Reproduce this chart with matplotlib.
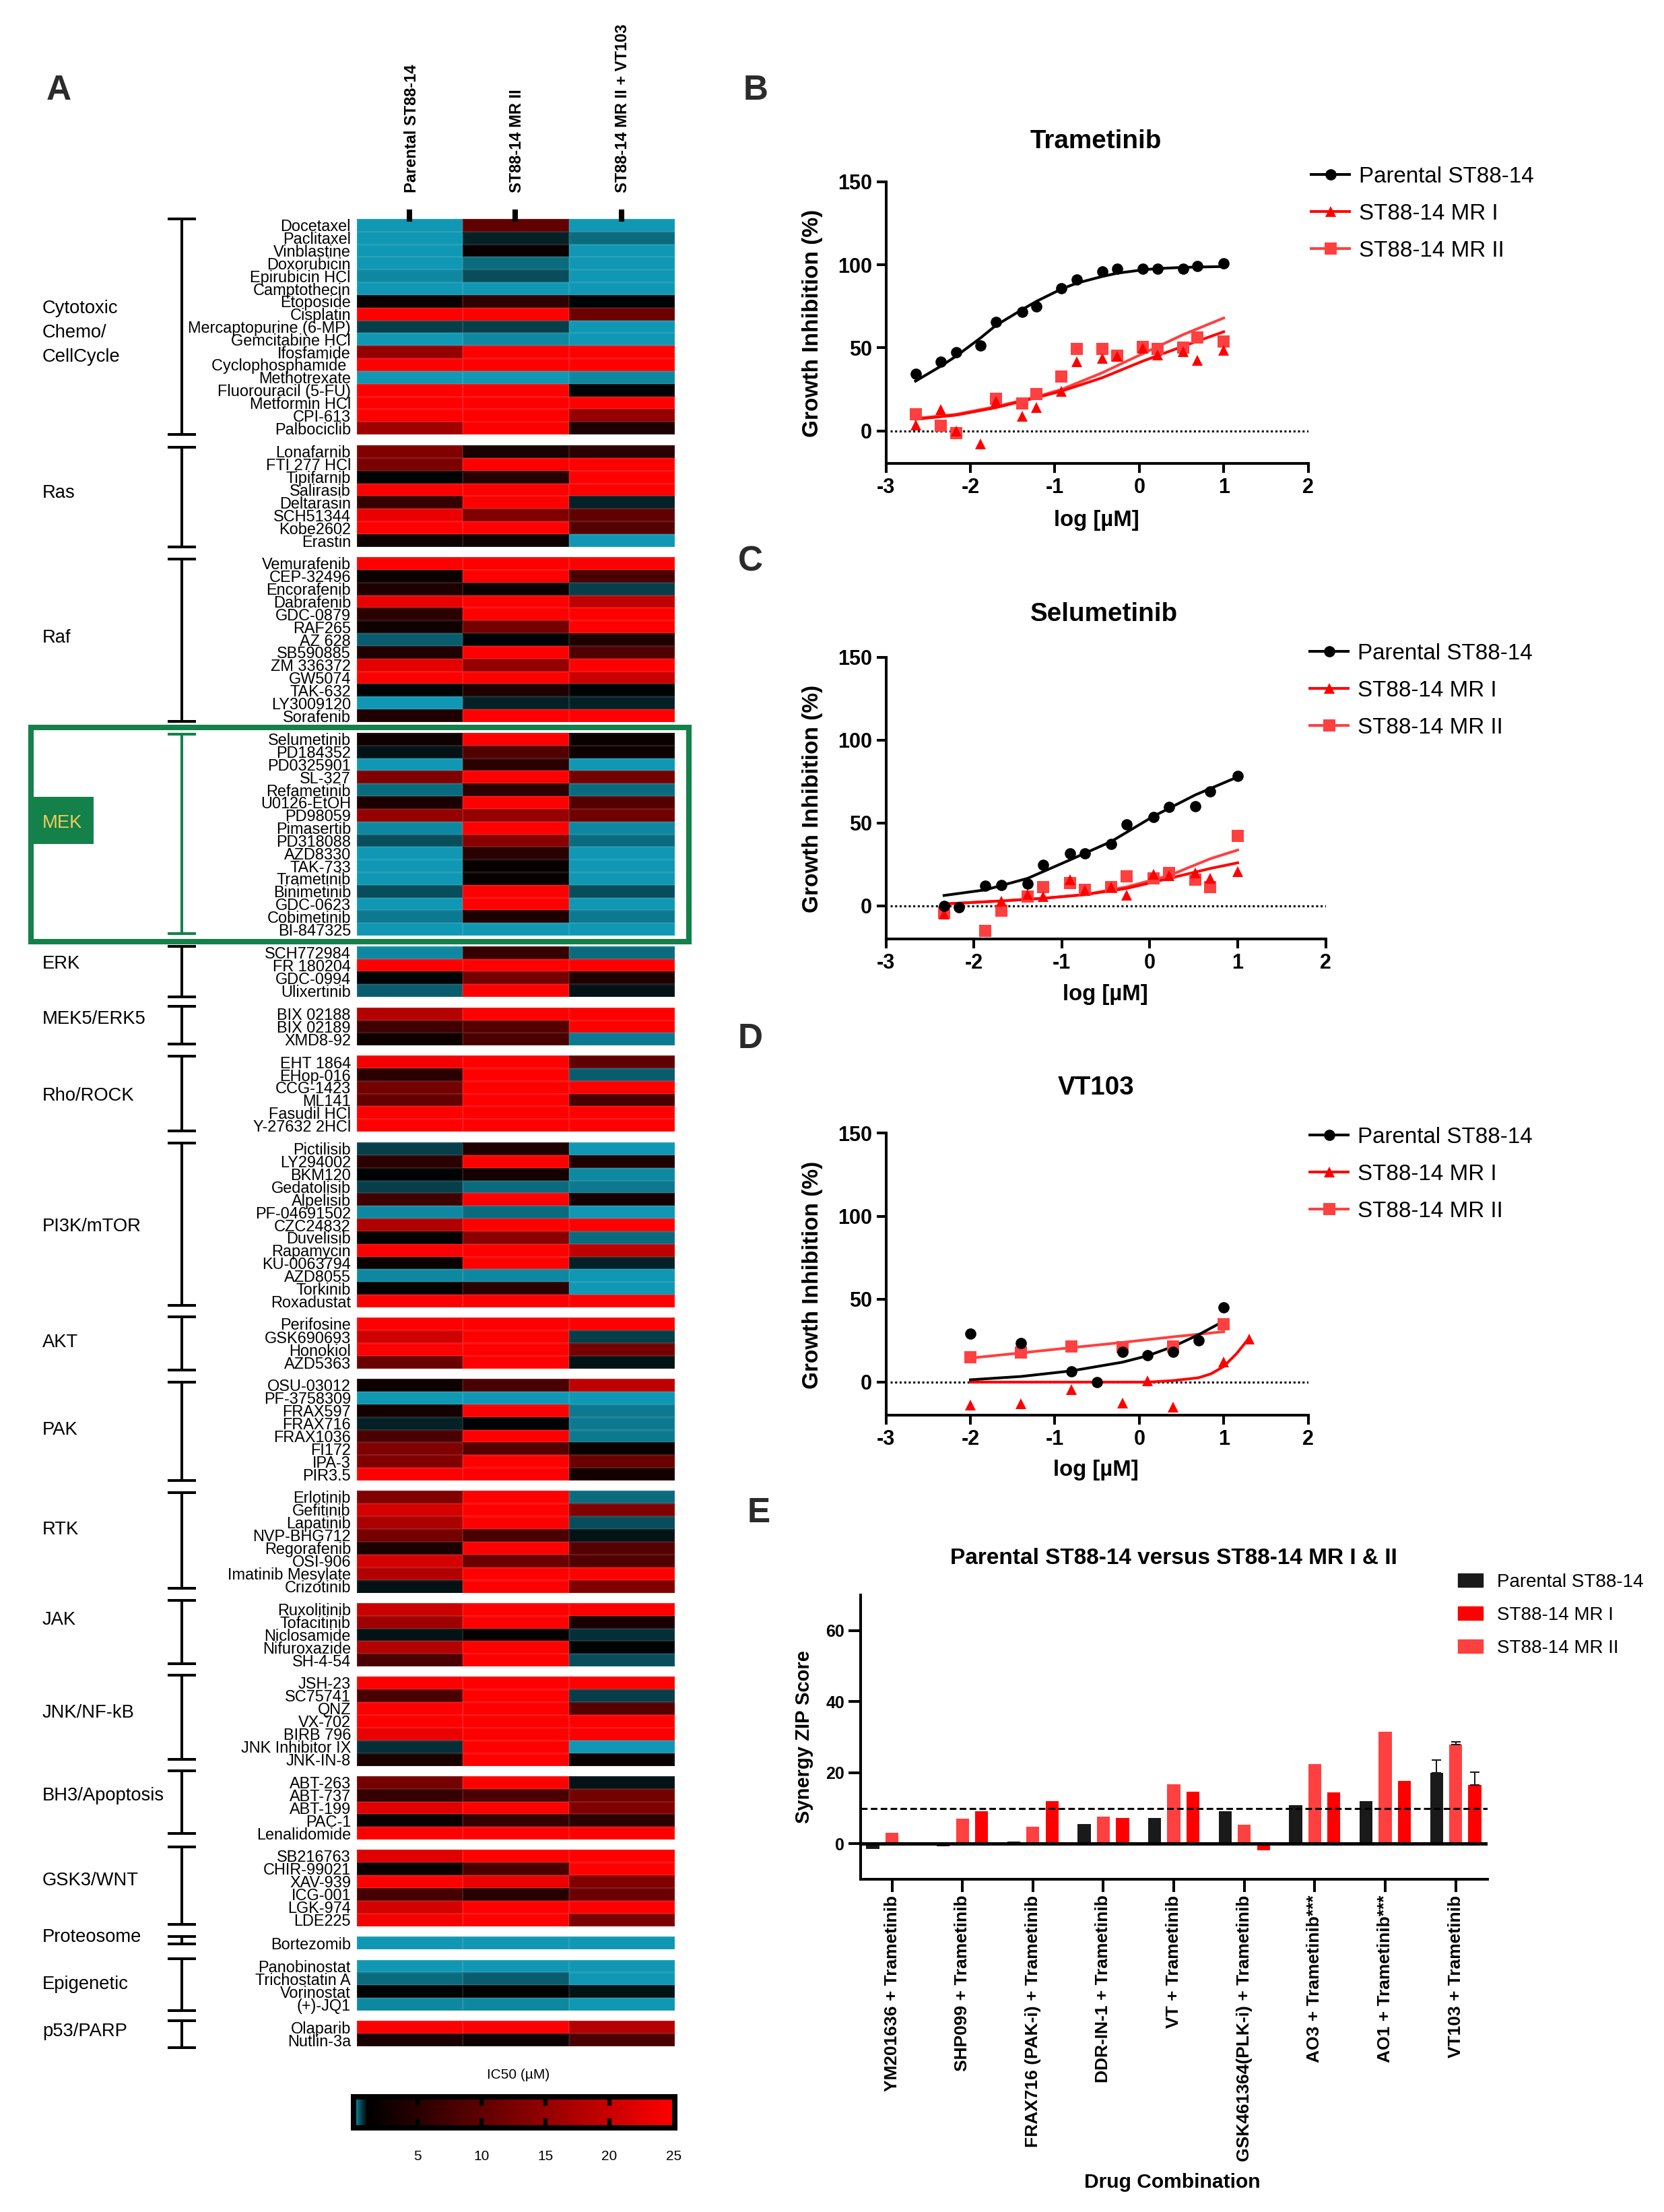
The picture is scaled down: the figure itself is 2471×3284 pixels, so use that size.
import numpy as np
import matplotlib
matplotlib.use('agg')
import matplotlib.pyplot as plt
from matplotlib.cm import ScalarMappable
from matplotlib.colors import LinearSegmentedColormap, Normalize
from matplotlib.lines import Line2D
from matplotlib.patches import Patch, Rectangle

plt.rcParams['font.family'] = ['Liberation Sans', 'DejaVu Sans']

W, H = 2471, 3284

# Panel A: drug screen, IC50 (uM), 0 is teal, 1 is black, 25 is red
GROUPS = ['Cytotoxic\nChemo/\nCellCycle', 'Ras', 'Raf', 'MEK', 'ERK', 'MEK5/ERK5', 'Rho/ROCK', 'PI3K/mTOR',
          'AKT', 'PAK', 'RTK', 'JAK', 'JNK/NF-kB', 'BH3/Apoptosis', 'GSK3/WNT', 'Proteosome', 'Epigenetic',
          'p53/PARP']
GROUP_SIZES = [17, 8, 13, 16, 4, 3, 6, 13, 4, 8, 8, 5, 7, 5, 6, 1, 4, 2]
DRUGS = ['Docetaxel', 'Paclitaxel', 'Vinblastine', 'Doxorubicin', 'Epirubicin HCl', 'Camptothecin', 'Etoposide',
         'Cisplatin', 'Mercaptopurine (6-MP)', 'Gemcitabine HCl', 'Ifosfamide', 'Cyclophosphamide ', 'Methotrexate',
         'Fluorouracil (5-FU)', 'Metformin HCl', 'CPI-613', 'Palbociclib',
         'Lonafarnib', 'FTI 277 HCl', 'Tipifarnib', 'Salirasib', 'Deltarasin', 'SCH51344', 'Kobe2602', 'Erastin',
         'Vemurafenib', 'CEP-32496', 'Encorafenib', 'Dabrafenib', 'GDC-0879', 'RAF265', 'AZ 628', 'SB590885',
         'ZM 336372', 'GW5074', 'TAK-632', 'LY3009120', 'Sorafenib',
         'Selumetinib', 'PD184352', 'PD0325901', 'SL-327', 'Refametinib', 'U0126-EtOH', 'PD98059', 'Pimasertib',
         'PD318088', 'AZD8330', 'TAK-733', 'Trametinib', 'Binimetinib', 'GDC-0623', 'Cobimetinib', 'BI-847325',
         'SCH772984', 'FR 180204', 'GDC-0994', 'Ulixertinib',
         'BIX 02188', 'BIX 02189', 'XMD8-92',
         'EHT 1864', 'EHop-016', 'CCG-1423', 'ML141', 'Fasudil HCl', 'Y-27632 2HCl',
         'Pictilisib', 'LY294002', 'BKM120', 'Gedatolisib', 'Alpelisib', 'PF-04691502', 'CZC24832', 'Duvelisib',
         'Rapamycin', 'KU-0063794', 'AZD8055', 'Torkinib', 'Roxadustat',
         'Perifosine', 'GSK690693', 'Honokiol', 'AZD5363',
         'OSU-03012', 'PF-3758309', 'FRAX597', 'FRAX716', 'FRAX1036', 'FI172', 'IPA-3', 'PIR3.5',
         'Erlotinib', 'Gefitinib', 'Lapatinib', 'NVP-BHG712', 'Regorafenib', 'OSI-906', 'Imatinib Mesylate',
         'Crizotinib',
         'Ruxolitinib', 'Tofacitinib', 'Niclosamide', 'Nifuroxazide', 'SH-4-54',
         'JSH-23', 'SC75741', 'QNZ', 'VX-702', 'BIRB 796', 'JNK Inhibitor IX', 'JNK-IN-8',
         'ABT-263', 'ABT-737', 'ABT-199', 'PAC-1', 'Lenalidomide',
         'SB216763', 'CHIR-99021', 'XAV-939', 'ICG-001', 'LGK-974', 'LDE225',
         'Bortezomib',
         'Panobinostat', 'Trichostatin A', 'Vorinostat', '(+)-JQ1',
         'Olaparib', 'Nutlin-3a']
COLUMNS = ['Parental ST88-14', 'ST88-14 MR II', 'ST88-14 MR II + VT103']
IC50_PARENTAL = [0, .05, .05, .08, .15, 0, 2, 25, .65, .03, 15, 25, .08, 25, 25, 25, 16,
                 13, 12.5, 1, 25, 6, 23, 25, 2.5,
                 25, 2, 4, 23, 5, 2.5, .4, 4, 22.5, 25, 1, .08, 4,
                 2.5, .9, .03, 13, .3, 3.5, 15, .1, .55, .03, .03, .03, .55, .05, .2, 0,
                 .1, 25, 1, .4,
                 18, 7, 2.5,
                 24, 5, 12, 10.5, 25, 25,
                 .6, 5, 1, .65, 7, .1, 17.5, 1.5, 25, 2, .1, 1.5, 25,
                 25, 20.5, 25, 11,
                 2.5, .05, 3, .85, 8, 13, 13, 25,
                 13, 21, 17, 12, 3.5, 21, 17.5, .9,
                 20, 16, .9, 18, 8,
                 25, 8, 25, 25, 23, .75, 3.5,
                 12, 6, 22, 2, 25,
                 22, 2, 25, 7.5, 21, 24,
                 0,
                 .05, .35, 1, .1,
                 25, 3.5]
IC50_MR2 = [10, .8, 2, .35, .55, .05, 5.5, 25, .65, .15, 25, 25, .05, 25, 25, 25, 25,
            3.5, 25, 4.5, 25, 25, 13, 25, 2.5,
            25, 25, 2, 25, 25, 12, 1, 25, 15, 25, 4, .8, 25,
            25, 8.5, 5, 25, 5, 25, 15, 25, 14, 5, 1.7, 1.7, 25, 25, 4, .03,
            6, 25, 12, 25,
            25, 9, 8,
            25, 25, 25, 25, 25, 25,
            4, 25, 3, .3, 25, .35, 25, 14, 25, 25, .15, 5, 25,
            25, 25, 25, 25,
            8, .05, 25, 1, 25, 9, 25, 25,
            25, 25, 25, 8, 25, 11, 25, 25,
            25, 25, 1.3, 25, 25,
            25, 25, 25, 25, 25, 25, 25,
            25, 8, 25, 6, 25,
            25, 8, 23, 4.5, 25, 25,
            0,
            .03, .4, 1.2, .15,
            25, 2.5]
IC50_COMBO = [0, .35, .05, .05, .08, .05, 1, 11, .08, .03, 25, 25, .1, 1, 25, 15, 3.5,
              5, 25, 25, 25, .8, 10, 9, 0,
              25, 8, .6, 19, 25, 25, 4, 8.5, 25, 20, 1, .8, 25,
              2, 2.5, .03, 12, .35, 9, 11.5, .1, .3, .03, .05, .03, .55, 0, .2, .03,
              .3, 25, 4, .9,
              25, 25, .2,
              10, .45, 25, 8, 25, 25,
              0, 4, .15, .2, 3, .05, 25, .3, 19, .85, 0, .05, 25,
              25, .6, 12, .9,
              19, 0, .2, .2, .2, 2, 11, 3,
              .3, 13, .55, .9, 9, 8.5, 25, 13,
              25, 3.5, .7, 1, .5,
              25, .65, 9, 25, 24.5, .05, 2,
              .9, 12, 13, 5, 25,
              25, 25, 13, 11, 25, 12.5,
              0,
              .05, .05, .9, 0,
              18, 8]
COLORBAR_TICKS = [5, 10, 15, 20, 25]

# Panels B to D: dose response points and read-off fit curves
TRAM_X = [-2.65, -2.35, -2.17, -1.88, -1.70, -1.39, -1.22, -0.92, -0.74, -0.44, -0.26, 0.04, 0.22, 0.52, 0.69, 1.0]
TRAM_PARENTAL = [34.3, 41.5, 47.4, 51.4, 65.8, 71.6, 75.1, 85.7, 91.2, 95.9, 97.5, 97.5, 97.8, 97.5, 99.2, 101]
TRAM_MR1 = [3.6, 12.8, 0, -8, 17.7, 9, 14, 24, 41.5, 43.6, 44.8, 49.8, 45.6, 47.6, 42.3, 48.4]
TRAM_MR2 = [10, 3.3, -1.2, np.nan, 19.4, 16.6, 22.4, 32.7, 49.4, 49.4, 45.3, 50.6, 49.4, 50.2, 56.4, 53.9]
TRAM_FIT_PARENTAL_X = [-2.65, -2.35, -2.17, -1.88, -1.70, -1.39, -1.22, -0.92, -0.74, -0.44, -0.26, 0.04, 0.22, 0.52, 1.0]
TRAM_FIT_PARENTAL_Y = [30, 39, 45, 56, 63.5, 73, 78, 85.5, 89, 93, 95, 97, 97.8, 98.5, 99]
TRAM_FIT_MR1_X = [-2.65, -2.17, -1.70, -1.22, -0.92, -0.44, 0.04, 0.52, 1.0]
TRAM_FIT_MR1_Y = [7, 9.5, 14, 20, 24, 32, 42, 51, 59.7]
TRAM_FIT_MR2_X = [-2.65, -2.17, -1.70, -1.22, -0.92, -0.44, 0.04, 0.52, 1.0]
TRAM_FIT_MR2_Y = [7.5, 10, 14.6, 20.5, 25, 35, 46.5, 58, 68]

SELU_X = [-2.34, -2.17, -1.87, -1.69, -1.39, -1.21, -0.91, -0.74, -0.44, -0.26, 0.04, 0.22, 0.52, 0.69, 1.0]
SELU_PARENTAL = [0, -1, 12.3, 12.5, 13.2, 24.6, 31.6, 31.6, 37.3, 49.2, 53.8, 59.5, 60.2, 69.2, 78.5]
SELU_MR1 = [-4.8, np.nan, np.nan, 3, 7, 5.5, 15.7, 9.2, 11.5, 6.3, 19, 18.3, 20, 16.6, 20.5]
SELU_MR2 = [-4, np.nan, -15, -2.7, 5.8, 11.5, 13.7, 9.7, 11.5, 17.8, 16.6, 20, 16, 11.5, 42.2]
SELU_FIT_PARENTAL_X = [-2.34, -1.87, -1.39, -0.91, -0.44, 0.04, 0.52, 1.0]
SELU_FIT_PARENTAL_Y = [6.3, 9.7, 16.6, 27.7, 38.8, 54, 67, 77.8]
SELU_FIT_MR1_X = [-2.34, -1.69, -1.21, -0.74, -0.26, 0.22, 0.69, 1.0]
SELU_FIT_MR1_Y = [1.2, 3, 4.6, 6.8, 10.6, 16.6, 22.6, 26]
SELU_FIT_MR2_X = [-2.34, -1.69, -1.21, -0.74, -0.26, 0.22, 0.69, 1.0]
SELU_FIT_MR2_Y = [1.2, 3, 4.6, 6.8, 11.5, 18.3, 28.5, 33.7]

VT_PARENTAL_X = [-2, -1.4, -0.8, -0.5, -0.2, 0.1, 0.4, 0.7, 1.0]
VT_PARENTAL = [29, 23.4, 6.5, 0, 18.3, 16.2, 18.3, 25.1, 44.9]
VT_MR1_X = [-2, -1.4, -0.8, -0.2, 0.1, 0.4, 1.0, 1.3]
VT_MR1 = [-13.7, -13, -4.6, -12.5, 0.9, -14.9, 12.3, 26]
VT_MR2_X = [-2, -1.4, -0.8, -0.2, 0.4, 1.0]
VT_MR2 = [15, 18, 21.4, 21, 21.4, 35]
VT_FIT_PARENTAL_X = [-2, -1.4, -0.8, -0.2, 0.1, 0.4, 0.7, 1.0]
VT_FIT_PARENTAL_Y = [1.4, 3.4, 6.8, 12, 15.9, 21.4, 28.5, 36.7]
VT_FIT_MR1_X = [-2, 0.1, 0.4, 0.7, 0.85, 1.0, 1.15, 1.3]
VT_FIT_MR1_Y = [0, 0, 0.9, 2.6, 5, 9.4, 17, 26.5]
VT_FIT_MR2_X = [-2, -1.4, -0.8, -0.2, 0.4, 1.0]
VT_FIT_MR2_Y = [14.5, 17.6, 20.8, 23.9, 27.3, 30.4]

# Panel E: synergy scores
COMBOS = ['YM201636 + Trametinib', 'SHP099 + Trametinib', 'FRAX716 (PAK-i) + Trametinib', 'DDR-IN-1 + Trametinib',
          'VT + Trametinib', 'GSK461364(PLK-i) + Trametinib', 'AO3 + Trametinib***', 'AO1 + Trametinib***',
          'VT103 + Trametinib']
ZIP_PARENTAL = [-1.5, -0.8, 0.7, 5.5, 7.2, 9.2, 10.9, 12, 20]
ZIP_MR2 = [3, 7.1, 4.7, 7.7, 16.8, 5.3, 22.5, 31.5, 28]
ZIP_MR1 = [0, 9.1, 12, 7.3, 14.6, -1.8, 14.5, 17.6, 16.5]
ZIP_ERR_PARENTAL = 3.5
ZIP_ERR_MR2 = 0.6
ZIP_ERR_MR1 = 3.7

BLACK, RED, LIGHT = '#000000', '#ff0000', '#ff4040'
TEAL = '#0f97b3'
GREEN = '#14804a'

fig = plt.figure(figsize=(W / 100, H / 100), dpi=100)
ov = fig.add_axes([0, 0, 1, 1], zorder=5)
ov.set_xlim(0, W)
ov.set_ylim(H, 0)
ov.axis('off')
ov.patch.set_alpha(0)


def px_axes(left, top, right, bottom):
    return fig.add_axes([left / W, 1 - bottom / H, (right - left) / W, (bottom - top) / H])


# heat map blocks
cmap = LinearSegmentedColormap.from_list('ic50', [(0, TEAL), (1 / 25, BLACK), (1, RED)])
norm = Normalize(0, 25)
values = np.column_stack([IC50_PARENTAL, IC50_MR2, IC50_COMBO])

BLOCK_EDGES = [(325, 645), (661, 812), (827, 1072), (1088, 1389), (1405, 1480), (1496, 1552), (1567.5, 1680),
               (1696, 1941), (1956, 2032), (2047, 2198), (2213, 2364.5), (2380, 2474), (2489, 2621.5), (2637, 2731),
               (2746, 2859.5), (2875, 2894), (2909.5, 2985), (3000, 3038)]
BRACKETS = [(325, 645), (664, 812), (830, 1071), (1090.5, 1386.5), (1405, 1480), (1494, 1550), (1568, 1679),
            (1697, 1938), (1955, 2034), (2052, 2198), (2216, 2358), (2376, 2470), (2487, 2612), (2629, 2722),
            (2742, 2857), (2875, 2886), (2908, 2985), (3000, 3040)]
GROUP_LABEL_Y = [494, 732, 947.5, 1222, 1430.5, 1513, 1627.5, 1821, 1993.5, 2123.5, 2270.5, 2405, 2543, 2666, 2792,
                 2876, 2946, 3016]

start = 0
for i, (group, size) in enumerate(zip(GROUPS, GROUP_SIZES)):
    top, bottom = BLOCK_EDGES[i]
    ax = px_axes(530, top, 1002, bottom)
    ax.pcolormesh(values[start:start + size], cmap=cmap, norm=norm, edgecolors=(1, 1, 1, 0.07), linewidth=0.8)
    ax.set_ylim(size, 0)
    ax.set_yticks(np.arange(size) + 0.5, DRUGS[start:start + size])
    ax.tick_params(axis='y', length=0, pad=6.5, labelsize=16.9)
    ax.set_xticks([])
    for spine in ax.spines.values():
        spine.set_visible(False)
    if i == 0:
        ax.set_xticks([0.52, 1.51, 2.51], COLUMNS, rotation=90, fontweight='bold', fontsize=17)
        ax.xaxis.tick_top()
        ax.tick_params(axis='x', length=0, pad=28)
    start += size

    color = GREEN if group == 'MEK' else BLACK
    b_top, b_bottom = BRACKETS[i]
    ov.vlines(269.5, b_top, b_bottom, color=color, lw=2.9)
    ov.hlines([b_top, b_bottom], 249, 291, color=color, lw=2.9)
    if group == 'MEK':
        ov.add_patch(Rectangle((50, 1183), 89, 70, facecolor=GREEN, edgecolor='none'))
        ov.text(63, GROUP_LABEL_Y[i], group, color='#f0ce5a', fontsize=19.7, va='center')
    elif i == 0:
        for line, y in zip(group.split('\n'), [458, 494, 530]):
            ov.text(63, y, line, fontsize=19.7, va='center')
    else:
        ov.text(63, GROUP_LABEL_Y[i], group, fontsize=19.7, va='center')

ov.vlines([608, 765, 923], 311, 329.5, color=BLACK, lw=5.8)
ov.add_patch(Rectangle((46, 1080), 977, 318, fill=False, edgecolor=GREEN, lw=5.8))

# colour key
cax = px_axes(525, 3112.5, 1002, 3158.5)
cbar = fig.colorbar(ScalarMappable(norm=Normalize(0, 25.1), cmap=cmap), cax=cax, orientation='horizontal',
                    ticks=COLORBAR_TICKS)
cbar.outline.set_linewidth(5.8)
cbar.ax.tick_params(length=0, pad=24, labelsize=15)
cax.vlines(COLORBAR_TICKS[:-1], 0, 0.3, color=BLACK, lw=4.5)
cax.vlines(COLORBAR_TICKS[:-1], 0.7, 1, color=BLACK, lw=4.5)
ov.text(770, 3080, 'IC50 (\u00b5M)', fontsize=15, ha='center', va='center')

for letter, x, y in [('A', 87, 134), ('B', 1122, 135), ('C', 1114, 834), ('D', 1114, 1543), ('E', 1127, 2246)]:
    ov.text(x, y, letter, fontsize=37, fontweight='bold', color='#2b2b2b', ha='center', va='center')


def dose_panel(box, title, title_xy, xlabel_xy, ylabel_y, legend_xy, parental, mr1, mr2, fits):
    left, top, right, bottom, ymin = box
    ax = px_axes(left, top, right, bottom)
    ax.plot(*fits[2], color=LIGHT, lw=2.9)
    ax.plot(*fits[1], color=RED, lw=2.9)
    ax.plot(*fits[0], color=BLACK, lw=2.9)
    ax.plot(*mr2, ls='none', marker='s', ms=12.5, color=LIGHT, mew=0)
    ax.plot(*mr1, ls='none', marker='^', ms=11.5, color=RED, mew=0)
    ax.plot(*parental, ls='none', marker='o', ms=12, color=BLACK, mew=0)
    ax.axhline(0, color=BLACK, lw=2.2, ls=(0, (1, 1.2)), xmin=0.01, zorder=1)
    ax.set_xlim(-3, 2)
    ax.set_ylim(ymin, 150)
    ax.set_xticks([-3, -2, -1, 0, 1, 2], ['-3', '-2', '-1', '0', '1', '2'])
    ax.set_yticks([0, 50, 100, 150])
    ax.tick_params(length=10, width=2.9, labelsize=22, pad=5)
    for lab in ax.get_xticklabels() + ax.get_yticklabels():
        lab.set_fontweight('bold')
    ax.spines[['top', 'right']].set_visible(False)
    ax.spines[['left', 'bottom']].set_linewidth(2.9)
    ax.patch.set_alpha(0)
    ax.set_xlabel('log [\u00b5M]', fontsize=23.7, fontweight='bold', va='center')
    ax.xaxis.set_label_coords(*xlabel_xy, transform=ov.transData)
    ax.set_ylabel('Growth Inhibition (%)', fontsize=24, fontweight='bold', va='center')
    ax.yaxis.set_label_coords(1206, ylabel_y, transform=ov.transData)
    ax.set_title(title, fontsize=27.8, fontweight='bold', va='center', pad=-3,
                 x=(title_xy[0] - left) / (right - left), y=(bottom - title_xy[1]) / (bottom - top))
    handles = [Line2D([], [], color=BLACK, lw=2.9, marker='o', ms=12, mew=0),
               Line2D([], [], color=RED, lw=2.9, marker='^', ms=11.5, mew=0),
               Line2D([], [], color=LIGHT, lw=2.9, marker='s', ms=12.5, mew=0)]
    ax.legend(handles, ['Parental ST88-14', 'ST88-14 MR I', 'ST88-14 MR II'], loc='upper left',
              bbox_to_anchor=legend_xy, bbox_transform=ov.transData, frameon=False, fontsize=23.9, borderpad=0,
              borderaxespad=0, handlelength=1.72, handletextpad=0.42, labelspacing=0.72)


dose_panel((1315.7, 270, 1942.5, 687.8, -19.5), 'Trametinib', (1627, 206), (1628, 772), 480, (1947, 247),
           (TRAM_X, TRAM_PARENTAL), (TRAM_X, TRAM_MR1), (TRAM_X, TRAM_MR2),
           [(TRAM_FIT_PARENTAL_X, TRAM_FIT_PARENTAL_Y), (TRAM_FIT_MR1_X, TRAM_FIT_MR1_Y),
            (TRAM_FIT_MR2_X, TRAM_FIT_MR2_Y)])
dose_panel((1315.7, 975.7, 1968.5, 1393.7, -19.8), 'Selumetinib', (1639, 908), (1641, 1476), 1186, (1945, 955),
           (SELU_X, SELU_PARENTAL), (SELU_X, SELU_MR1), (SELU_X, SELU_MR2),
           [(SELU_FIT_PARENTAL_X, SELU_FIT_PARENTAL_Y), (SELU_FIT_MR1_X, SELU_FIT_MR1_Y),
            (SELU_FIT_MR2_X, SELU_FIT_MR2_Y)])
dose_panel((1315.7, 1682.4, 1942.5, 2100.7, -19.8), 'VT103', (1628, 1611), (1627, 2183), 1892.5, (1945, 1673),
           (VT_PARENTAL_X, VT_PARENTAL), (VT_MR1_X, VT_MR1), (VT_MR2_X, VT_MR2),
           [(VT_FIT_PARENTAL_X, VT_FIT_PARENTAL_Y), (VT_FIT_MR1_X, VT_FIT_MR1_Y),
            (VT_FIT_MR2_X, VT_FIT_MR2_Y)])

# synergy bars
ax = px_axes(1277.5, 2368, 2208.7, 2790)
pos = np.arange(len(COMBOS))
bar_w, step = 0.184, 0.272
ax.bar(pos - step, ZIP_PARENTAL, bar_w, color='#1a1a1a')
ax.bar(pos, ZIP_MR2, bar_w, color=LIGHT)
ax.bar(pos + step, ZIP_MR1, bar_w, color=RED)
ax.errorbar(pos[-1:] - step, ZIP_PARENTAL[-1:], yerr=[[0], [ZIP_ERR_PARENTAL]], color='#1a1a1a', capsize=5,
            elinewidth=1.5, capthick=1.5, ls='none')
ax.errorbar(pos[-1:], ZIP_MR2[-1:], yerr=[[0], [ZIP_ERR_MR2]], color='#1a1a1a', capsize=5, elinewidth=1.5,
            capthick=1.5, ls='none')
ax.errorbar(pos[-1:] + step, ZIP_MR1[-1:], yerr=[[0], [ZIP_ERR_MR1]], color='#1a1a1a', capsize=5, elinewidth=1.5,
            capthick=1.5, ls='none')
ax.axhline(0, color=BLACK, lw=3.6)
ax.axhline(10, color=BLACK, lw=2.2, ls=(0, (3.2, 1.6)))
ax.set_xlim(-0.45, 8.45)
ax.set_ylim(-10, 70)
ax.set_yticks([0, 20, 40, 60])
ax.set_xticks(pos, COMBOS, rotation=90, fontsize=19, fontweight='bold', va='top', ha='center')
ax.tick_params(axis='x', length=14, width=2.9, pad=3)
ax.tick_params(axis='y', length=13, width=2.9, labelsize=18, pad=4)
for lab in ax.get_yticklabels():
    lab.set_fontweight('bold')
ax.spines[['top', 'right']].set_visible(False)
ax.spines[['left', 'bottom']].set_linewidth(2.9)
ax.set_xlabel('Drug Combination', fontsize=21.6, fontweight='bold', va='center')
ax.xaxis.set_label_coords(1741, 3240, transform=ov.transData)
ax.set_ylabel('Synergy ZIP Score', fontsize=21, fontweight='bold', va='center')
ax.yaxis.set_label_coords(1194, 2579, transform=ov.transData)
ax.set_title('Parental ST88-14 versus ST88-14 MR I & II', fontsize=24, fontweight='bold', va='center', pad=-3,
             x=(1742.5 - 1277.5) / (2208.7 - 1277.5), y=(2790 - 2309) / (2790 - 2368))
ax.legend([Patch(color='#1a1a1a'), Patch(color=RED), Patch(color=LIGHT)],
          ['Parental ST88-14', 'ST88-14 MR I', 'ST88-14 MR II'], loc='upper left', bbox_to_anchor=(2165, 2336),
          bbox_transform=ov.transData, frameon=False, fontsize=20, borderpad=0, borderaxespad=0, handlelength=1.32,
          handleheight=0.72, handletextpad=0.78, labelspacing=0.82)

fig.savefig('out.png', dpi=100, facecolor='white')
